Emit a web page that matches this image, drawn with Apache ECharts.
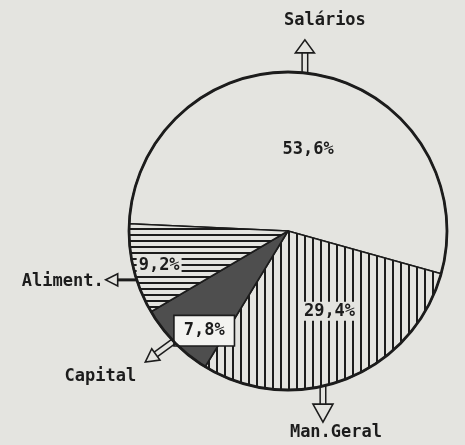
<!DOCTYPE html>
<html><head><meta charset="utf-8">
<script src="https://cdn.jsdelivr.net/npm/echarts@6/dist/echarts.min.js"></script>
<style>html,body{margin:0;padding:0;background:#e4e4e0;} #c{width:465px;height:445px;}</style>
</head><body><div id="c"></div>
<script>
// ---- data ----
const categories = ['Salários', 'Man.Geral', 'Capital', 'Aliment.'];
const values = [53.6, 29.4, 7.8, 9.2];
const valueLabels = ['53,6%', '29,4%', '7,8%', '9,2%'];

// ---- style / layout config ----
const BG = '#e4e4e0';
const INK = '#1c1c1c';
const FONT = '"DejaVu Sans Mono", "Liberation Mono", monospace';
const FS = 17;
const CX = 288, CY = 231, R = 159;
const START = 177.4;
// inner label: radial fraction and angular nudge (deg) from slice middle
const innerFrac = { 'Salários': 0.51, 'Man.Geral': 0.55, 'Capital': 0.8, 'Aliment.': 0.82 };
const innerNudge = { 'Salários': -5, 'Man.Geral': 6, 'Capital': 5.5, 'Aliment.': 1 };
// arrow: anchor angle on circle, direction, shaft, head length, head width, double shaft, label offset from tip, align
const arrowCfg = {
  'Salários':  { at: 83.9,  dir: 90,   shaft: 20, head: 13, hw: 9.5, dbl: true,  off: [20, -19], align: 'center' },
  'Man.Geral': { at: -77.3, dir: -90,  shaft: 18, head: 18, hw: 10,  dbl: true,  off: [13, 10],  align: 'center' },
  'Capital':   { at: -136,  dir: -144, shaft: 22, head: 13, hw: 7,   dbl: true,  off: [-45, 15], align: 'center' },
  'Aliment.':  { at: 197.9, dir: 180,  shaft: 19, head: 12, hw: 6,   dbl: false, off: [-2, 2],   align: 'right' }
};

function makePattern(kind) {
  const c = document.createElement('canvas');
  if (kind === 'v') { c.width = 8; c.height = 8; } else { c.width = 8; c.height = 6; }
  const g = c.getContext('2d');
  g.fillStyle = BG; g.fillRect(0, 0, c.width, c.height);
  g.fillStyle = INK;
  if (kind === 'v') g.fillRect(0, 0, 2, c.height); else g.fillRect(0, 0, c.width, 2);
  return { image: c, repeat: 'repeat' };
}
const fills = {
  'Salários': BG,
  'Man.Geral': makePattern('v'),
  'Capital': '#4e4e4e',
  'Aliment.': makePattern('h')
};

const total = values.reduce((a, b) => a + b, 0);
let acc = START;
const midAngle = {};
categories.forEach((c, i) => {
  const span = values[i] / total * 360;
  midAngle[c] = acc - span / 2;
  acc -= span;
});

const data = categories.map((c, i) => {
  const m = midAngle[c] * Math.PI / 180;
  const a = (midAngle[c] + innerNudge[c]) * Math.PI / 180;
  const f = innerFrac[c];
  // target minus default inside position (R/2 on the mid angle)
  const off = [f * R * Math.cos(a) - 0.5 * R * Math.cos(m), -(f * R * Math.sin(a) - 0.5 * R * Math.sin(m))];
  const lab = {
    show: true, position: 'inside', formatter: valueLabels[i],
    color: INK, fontFamily: FONT, fontSize: FS, fontWeight: 'bold',
    offset: off
  };
  if (c === 'Capital') Object.assign(lab, { backgroundColor: '#f3f3f0', borderColor: INK, borderWidth: 1.6, padding: [6, 9] });
  if (c === 'Aliment.' || c === 'Man.Geral') Object.assign(lab, { backgroundColor: BG, padding: [1, 2] });
  return { name: c, value: values[i], itemStyle: { color: fills[c] }, label: lab };
});

const graphics = [];
graphics.push({ type: 'circle', z: 100, shape: { cx: CX, cy: CY, r: R }, style: { fill: null, stroke: INK, lineWidth: 2.8 } });
categories.forEach(c => {
  const k = arrowCfg[c];
  const t = k.at * Math.PI / 180;
  const px = CX + R * Math.cos(t), py = CY - R * Math.sin(t);
  const a = k.dir * Math.PI / 180;
  const dx = Math.cos(a), dy = -Math.sin(a);
  const nx = -dy, ny = dx;
  const bx = px + dx * k.shaft, by = py + dy * k.shaft;
  if (k.dbl) {
    [-1, 1].forEach(s => graphics.push({ type: 'line', z: 100,
      shape: { x1: px + nx * 2.8 * s, y1: py + ny * 2.8 * s, x2: bx + nx * 2.8 * s, y2: by + ny * 2.8 * s },
      style: { stroke: INK, lineWidth: 1.5 } }));
  } else {
    graphics.push({ type: 'line', z: 100, shape: { x1: px, y1: py, x2: bx, y2: by }, style: { stroke: INK, lineWidth: 3 } });
  }
  const tx = bx + dx * k.head, ty = by + dy * k.head;
  graphics.push({ type: 'polygon', z: 101,
    shape: { points: [[bx + nx * k.hw, by + ny * k.hw], [bx - nx * k.hw, by - ny * k.hw], [tx, ty]] },
    style: { fill: BG, stroke: INK, lineWidth: 1.6, lineJoin: 'miter' } });
  graphics.push({ type: 'text', z: 101, x: tx + k.off[0], y: ty + k.off[1],
    style: { text: c, fill: INK, font: 'bold ' + FS + 'px ' + FONT, textAlign: k.align, textVerticalAlign: 'middle' } });
});

const chart = echarts.init(document.getElementById('c'), null, { renderer: 'canvas' });
chart.setOption({
  backgroundColor: BG,
  animation: false,
  series: [{
    type: 'pie', center: [CX, CY], radius: [0, R], startAngle: START, clockwise: true,
    avoidLabelOverlap: false, labelLine: { show: false },
    itemStyle: { borderColor: INK, borderWidth: 1.6 },
    emphasis: { disabled: true },
    data: data
  }],
  graphic: graphics
});
</script></body></html>
